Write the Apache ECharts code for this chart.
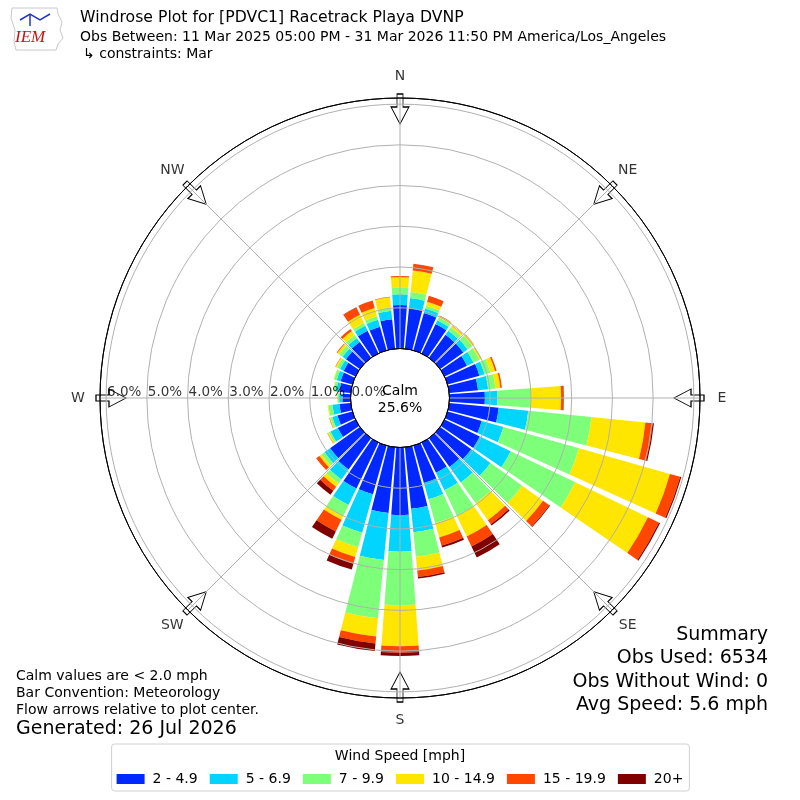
<!DOCTYPE html>
<html>
<head>
<meta charset="utf-8">
<script src="https://cdn.jsdelivr.net/npm/echarts@6/dist/echarts.min.js"></script>
<style>html,body{margin:0;padding:0;background:#fff}#chart{width:800px;height:800px}</style>
</head>
<body>
<div id="chart"></div>
<script>
// ---- data (percent of all observations) ----
const directions = ['0','10','20','30','40','50','60','70','80','90','100','110','120','130','140','150','160','170',
                    '180','190','200','210','220','230','240','250','260','270','280','290','300','310','320','330','340','350'];
const speedBins = ['2 - 4.9', '5 - 6.9', '7 - 9.9', '10 - 14.9', '15 - 19.9', '20+'];
const bin2to5   = [1.07,1.00,0.95,0.80,0.70,0.70,0.61,0.81,0.71,0.87,1.22,0.87,0.96,0.94,0.87,0.82,0.95,1.52,
                   1.66,1.62,1.24,1.25,0.95,0.90,0.48,0.38,0.28,0.20,0.28,0.30,0.32,0.42,0.48,0.62,0.60,0.73];
const bin5to7   = [0.26,0.25,0.12,0.10,0.12,0.13,0.18,0.13,0.25,0.31,0.73,0.55,0.84,0.58,0.47,0.48,0.42,0.58,
                   0.90,1.16,0.98,0.45,0.30,0.17,0.20,0.13,0.17,0.08,0.08,0.10,0.10,0.10,0.12,0.13,0.18,0.21];
const bin7to10  = [0.16,0.15,0.07,0.08,0.10,0.14,0.16,0.15,0.18,0.82,1.56,1.93,1.76,0.96,0.63,0.70,0.61,0.60,
                   1.31,1.44,0.37,0.30,0.12,0.09,0.05,0.05,0.10,0.04,0.06,0.07,0.08,0.10,0.09,0.08,0.09,0.08];
const bin10to15 = [0.26,0.53,0.10,0.04,0.05,0.05,0.04,0.12,0.12,0.74,1.33,2.32,1.98,0.63,0.51,0.56,0.36,0.34,
                   1.01,0.45,0.25,0.10,0.10,0.06,0.03,0.02,0.02,0.01,0.01,0.01,0.04,0.06,0.12,0.22,0.21,0.25];
const bin15to20 = [0.03,0.17,0.15,0.01,0.01,0.01,0.01,0.04,0.04,0.06,0.18,0.26,0.30,0.19,0.12,0.27,0.21,0.16,
                   0.16,0.17,0.17,0.32,0.12,0.10,0.01,0.01,0.00,0.00,0.00,0.00,0.01,0.02,0.06,0.20,0.19,0.01];
const bin20plus = [0.00,0.00,0.00,0.00,0.00,0.00,0.00,0.00,0.00,0.01,0.03,0.03,0.03,0.02,0.04,0.30,0.05,0.04,
                   0.08,0.19,0.15,0.20,0.12,0.00,0.00,0.00,0.00,0.00,0.00,0.00,0.00,0.00,0.00,0.01,0.00,0.00];
const radiusTicks = [0, 1, 2, 3, 4, 5, 6];
const compassAngles = [0, 45, 90, 135, 180, 225, 270, 315];
const compassLabels = ['N', 'NE', 'E', 'SE', 'S', 'SW', 'W', 'NW'];
const calmPct = 25.6;
const headerLines = [
  'Windrose Plot for [PDVC1] Racetrack Playa DVNP',
  'Obs Between: 11 Mar 2025 05:00 PM - 31 Mar 2026 11:50 PM America/Los_Angeles',
  '\u21b3 constraints: Mar'
];
const noteLines = ['Calm values are < 2.0 mph', 'Bar Convention: Meteorology', 'Flow arrows relative to plot center.'];
const generatedText = 'Generated: 26 Jul 2026';
const summaryLines = ['Summary', 'Obs Used: 6534', 'Obs Without Wind: 0', 'Avg Speed: 5.6 mph'];

// ---- layout / style ----
const binSeries = [bin2to5, bin5to7, bin7to10, bin10to15, bin15to20, bin20plus];
const binColors = ['#0028ff', '#00d4ff', '#7dff7a', '#ffe600', '#ff4700', '#800000'];
const CX = 400, CY = 398, R0 = 49.5, R1 = 300, RMAX = 6.15;
const ARROW_R = RMAX - 0.27;          // arrows straddle the outer circle
const COMPASS_LABEL_R = RMAX + 0.54;  // compass letters just outside the circle
const FONT = 'DejaVu Sans';
const gridGray = '#b0b0b0';

const chart = echarts.init(document.getElementById('chart'), null, {renderer: 'canvas'});

const graphics = [];
const headerSizes = [15.7, 14, 14];
headerLines.forEach((t, i) => {
  graphics.push({type: 'text', x: i === 2 ? 83 : 80, y: [18, 37, 54][i],
    style: {text: t, font: headerSizes[i] + 'px "' + FONT + '"', fill: '#000', textVerticalAlign: 'middle'}});
});
noteLines.forEach((t, i) => {
  graphics.push({type: 'text', x: 16, y: 676 + i * 17,
    style: {text: t, font: '14px "' + FONT + '"', fill: '#000', textVerticalAlign: 'middle'}});
});
graphics.push({type: 'text', x: 16, y: 729,
  style: {text: generatedText, font: '19px "' + FONT + '"', fill: '#000', textVerticalAlign: 'middle'}});
summaryLines.forEach((t, i) => {
  graphics.push({type: 'text', x: 768, y: 635 + i * 23.5,
    style: {text: t, font: '19px "' + FONT + '"', fill: '#000', textAlign: 'right', textVerticalAlign: 'middle'}});
});
graphics.push({type: 'text', x: CX, y: 391, z: 20,
  style: {text: 'Calm', font: '14px "' + FONT + '"', fill: '#000', textAlign: 'center', textVerticalAlign: 'middle'}});
graphics.push({type: 'text', x: CX, y: 408, z: 20,
  style: {text: calmPct.toFixed(1) + '%', font: '14px "' + FONT + '"', fill: '#000', textAlign: 'center', textVerticalAlign: 'middle'}});
// logo (approximation)
graphics.push({type: 'polyline', shape: {points: [[12,8],[57,8],[58,14],[62,22],[60,30],[63,38],[58,44],[56,50],[16,50],[14,42],[15,30],[11,18],[12,8]]},
  style: {stroke: '#c8c8c8', lineWidth: 1, fill: 'none'}});
graphics.push({type: 'polyline', shape: {points: [[20,20],[30,14],[40,20],[50,14]]}, style: {stroke: '#2233cc', lineWidth: 1.5, fill: 'none'}});
graphics.push({type: 'polyline', shape: {points: [[30,14],[30,26]]}, style: {stroke: '#2233cc', lineWidth: 1.5, fill: 'none'}});
graphics.push({type: 'text', x: 15, y: 38,
  style: {text: 'IEM', font: 'italic 17px "Liberation Serif"', fill: '#cc1111', textVerticalAlign: 'middle'}});

const series = speedBins.map((name, i) => ({
  type: 'bar', name: name, coordinateSystem: 'polar', polarIndex: 0, stack: 'wind',
  data: binSeries[i], barCategoryGap: '14%', itemStyle: {color: binColors[i]}, z: 2, silent: true
}));
// flow arrows
series.push({
  type: 'scatter', coordinateSystem: 'polar', polarIndex: 1, silent: true, z: 3, clip: false,
  symbol: 'path://M6,0 L12,0 L12,13 L18,13 L9,30 L0,13 L6,13 Z', symbolSize: [18, 30],
  itemStyle: {color: '#fff', borderColor: '#000', borderWidth: 1, opacity: 1},
  data: compassAngles.map(a => ({value: [ARROW_R, a], symbolRotate: -a}))
});
// compass letters
series.push({
  type: 'scatter', coordinateSystem: 'polar', polarIndex: 1, silent: true, z: 10, clip: false,
  symbolSize: 0, itemStyle: {color: 'transparent'},
  label: {show: true, position: 'inside', color: '#000', fontSize: 14, fontFamily: FONT,
    formatter: p => compassLabels[p.dataIndex]},
  data: compassAngles.map(a => [COMPASS_LABEL_R, a])
});
// radial tick labels along W
series.push({
  type: 'scatter', coordinateSystem: 'polar', polarIndex: 1, silent: true, z: 10,
  symbolSize: 0, itemStyle: {color: 'transparent'},
  label: {show: true, position: 'right', distance: 1, offset: [0, -6], color: '#000', fontSize: 13.5, fontFamily: FONT,
    formatter: p => p.value[0].toFixed(1) + '%'},
  data: radiusTicks.map(v => [v, 270])
});

const option = {
  animation: false,
  textStyle: {fontFamily: FONT},
  polar: [{center: [CX, CY], radius: [R0, R1]}, {center: [CX, CY], radius: [R0, R1]}],
  angleAxis: [
    {polarIndex: 0, type: 'category', data: directions, startAngle: 95, clockwise: true, boundaryGap: true,
     axisLine: {show: false}, axisTick: {show: false}, axisLabel: {show: false}, splitLine: {show: false}},
    {polarIndex: 1, type: 'value', min: 0, max: 360, interval: 45, startAngle: 90, clockwise: true, z: 5,
     axisLine: {show: true, lineStyle: {color: '#000', width: 1}}, axisTick: {show: false},
     axisLabel: {show: false},
     splitLine: {show: true, lineStyle: {color: gridGray, width: 1}}}
  ],
  radiusAxis: [
    {polarIndex: 0, type: 'value', min: 0, max: RMAX,
     axisLine: {show: false}, axisTick: {show: false}, axisLabel: {show: false}, splitLine: {show: false}},
    {polarIndex: 1, type: 'value', min: 0, max: RMAX, interval: 1, z: 4,
     axisLine: {show: false}, axisTick: {show: false}, axisLabel: {show: false},
     splitLine: {show: true, lineStyle: {width: 1,
       color: ['#000', gridGray, gridGray, gridGray, gridGray, gridGray, gridGray]}}}
  ],
  legend: {
    data: speedBins, left: 'center', bottom: 9, icon: 'rect', itemWidth: 28, itemHeight: 10, itemGap: 12,
    padding: [28, 6, 5, 5], borderColor: '#d0d0d0', borderWidth: 1, borderRadius: 3, selectedMode: false,
    textStyle: {fontSize: 14, color: '#000', fontFamily: FONT, padding: [0, 0, 0, 3]}
  },
  title: [{text: 'Wind Speed [mph]', left: 'center', top: 744,
    textStyle: {fontSize: 14, fontWeight: 'normal', color: '#000', fontFamily: FONT}}],
  graphic: graphics,
  series: series
};
chart.setOption(option);
</script>
</body>
</html>
